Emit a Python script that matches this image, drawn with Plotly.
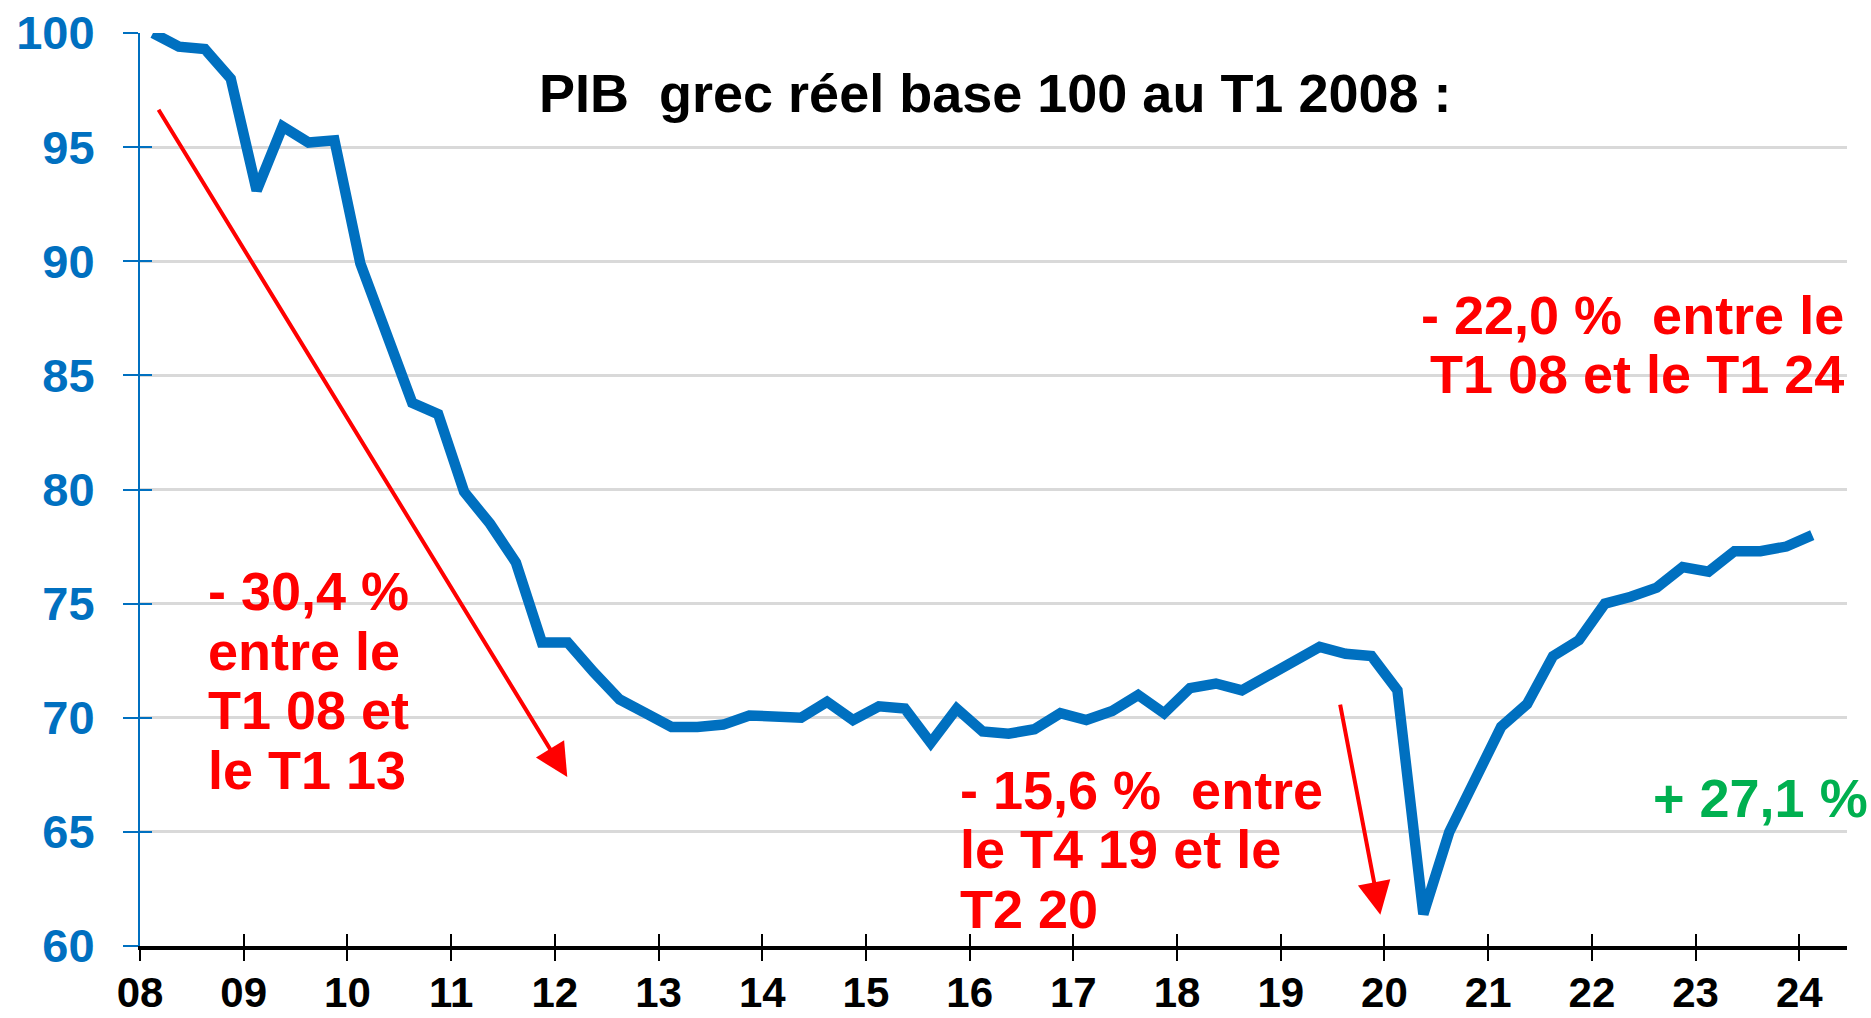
import plotly.graph_objects as go

# ---- data -------------------------------------------------------------
annees = list(range(2008, 2025))
tick_labels = ["08", "09", "10", "11", "12", "13", "14", "15", "16",
               "17", "18", "19", "20", "21", "22", "23", "24"]

# PIB grec réel trimestriel, base 100 au T1 2008 (T1 2008 ... T1 2024)
pib = [
    100.0, 99.4, 99.3, 98.0,   # 2008
    93.1, 95.9, 95.2, 95.3,    # 2009
    89.9, 86.7, 83.8, 83.3,    # 2010
    79.9, 78.5, 76.8, 73.3,    # 2011
    73.3, 72.0, 70.8, 70.2,    # 2012
    69.6, 69.6, 69.7, 70.1,    # 2013
    70.0, 70.0, 70.7, 69.9,    # 2014
    70.5, 70.4, 68.9, 70.4,    # 2015
    69.4, 69.3, 69.5, 70.2,    # 2016
    69.9, 70.3, 71.0, 70.2,    # 2017
    71.3, 71.5, 71.2, 71.8,    # 2018
    72.4, 73.1, 72.8, 72.7,    # 2019
    71.2, 61.4, 65.0, 67.4,    # 2020
    69.6, 70.6, 72.7, 73.4,    # 2021
    75.0, 75.3, 75.7, 76.6,    # 2022
    76.4, 77.3, 77.3, 77.5,    # 2023
    78.0,                      # 2024
]
# quarter positions (middle of each quarter)
trimestres = [2008 + i * 0.25 + 0.125 for i in range(len(pib))]

y_ticks = [60, 65, 70, 75, 80, 85, 90, 95, 100]

titre = "PIB  grec réel base 100 au T1 2008 :"
texte_2224 = ["- 22,0 %  entre le", "T1 08 et le T1 24"]
texte_3040 = ["- 30,4 %", "entre le", "T1 08 et", "le T1 13"]
texte_1560 = ["- 15,6 %  entre", "le T4 19 et le", "T2 20"]
texte_2710 = "+ 27,1 %"

# arrows: (start x, start y, end x, end y) in data units
fleche_1 = (2008.17, 96.7, 2012.12, 67.4)
fleche_2 = (2019.57, 70.64, 2019.96, 61.37)

# ---- style -------------------------------------------------------------
BLUE = "#0070C0"
RED = "#FF0000"
GREEN = "#00B050"
FONT = "Liberation Sans, Arial, sans-serif"
XR = [2008, 2024.46]
YR = [60, 100]
TXT = 54

fig = go.Figure()
fig.add_trace(go.Scatter(
    x=trimestres, y=pib, mode="lines",
    line=dict(color=BLUE, width=10.5),
    cliponaxis=False, showlegend=False, hoverinfo="skip",
))
# dummy trace for the overlay axes (crossing ticks)
fig.add_trace(go.Scatter(x=[None], y=[None], xaxis="x2", yaxis="y2",
                         showlegend=False, hoverinfo="skip"))

fig.update_layout(
    template="none",
    width=1871, height=1018,
    margin=dict(l=140, r=24, t=33, b=72, autoexpand=False),
    paper_bgcolor="white", plot_bgcolor="white",
    font=dict(family=FONT),
    xaxis=dict(
        range=XR, tickvals=annees, ticktext=tick_labels,
        showgrid=False, zeroline=False, automargin=False,
        showline=True, linecolor="black", linewidth=4,
        ticks="inside", ticklen=12, tickwidth=2, tickcolor="black",
        tickfont=dict(family=FONT, size=42, color="black", weight="bold"),
        ticklabelstandoff=7,
    ),
    yaxis=dict(
        range=YR, tickvals=y_ticks,
        showgrid=True, gridcolor="#D9D9D9", gridwidth=3,
        zeroline=False, automargin=False,
        showline=True, linecolor=BLUE, linewidth=2,
        ticks="outside", ticklen=15, tickwidth=2, tickcolor=BLUE,
        tickfont=dict(family=FONT, size=47, color=BLUE, weight="bold"),
        ticklabelstandoff=19,
    ),
    xaxis2=dict(
        range=XR, overlaying="x", anchor="y2", side="bottom",
        tickvals=annees, showticklabels=False, showgrid=False,
        zeroline=False, showline=False, automargin=False,
        ticks="outside", ticklen=14, tickwidth=2, tickcolor="black",
    ),
    yaxis2=dict(
        range=YR, overlaying="y", anchor="x2", side="left",
        tickvals=y_ticks, showticklabels=False, showgrid=False,
        zeroline=False, showline=False, automargin=False,
        ticks="inside", ticklen=12, tickwidth=2, tickcolor=BLUE,
    ),
)

ann = []
# title
ann.append(dict(x=2016.25, y=97.37, xref="x", yref="y", text=titre,
                showarrow=False, xanchor="center", yanchor="middle",
                font=dict(family=FONT, size=TXT, color="black", weight="bold")))

def add_lines(lines, x, y0, dy, anchor, color):
    for i, t in enumerate(lines):
        ann.append(dict(x=x, y=y0 - i * dy, xref="x", yref="y", text=t,
                        showarrow=False, xanchor=anchor, yanchor="middle",
                        font=dict(family=FONT, size=TXT, color=color, weight="bold")))

DY = 59.5 / 22.825
add_lines(texte_2224, 2024.45, 87.65, DY, "right", RED)
add_lines(texte_3040, 2008.64, 75.55, DY, "left", RED)
add_lines(texte_1560, 2015.89, 66.85, DY, "left", RED)
ann.append(dict(x=2023.63, y=66.5, xref="x", yref="y", text=texte_2710,
                showarrow=False, xanchor="center", yanchor="middle",
                font=dict(family=FONT, size=TXT, color=GREEN, weight="bold")))

for (x0, y0, x1, y1) in (fleche_1, fleche_2):
    ann.append(dict(x=x1, y=y1, ax=x0, ay=y0, xref="x", yref="y",
                    axref="x", ayref="y", text="", showarrow=True,
                    arrowhead=2, arrowsize=1.65, arrowwidth=4,
                    arrowcolor=RED, standoff=0, startstandoff=0))

fig.update_layout(annotations=ann)

fig.write_html(
    "out.html",
    config={"displayModeBar": False},
    post_script="document.body.style.margin='0';document.body.style.overflow='hidden';",
)
